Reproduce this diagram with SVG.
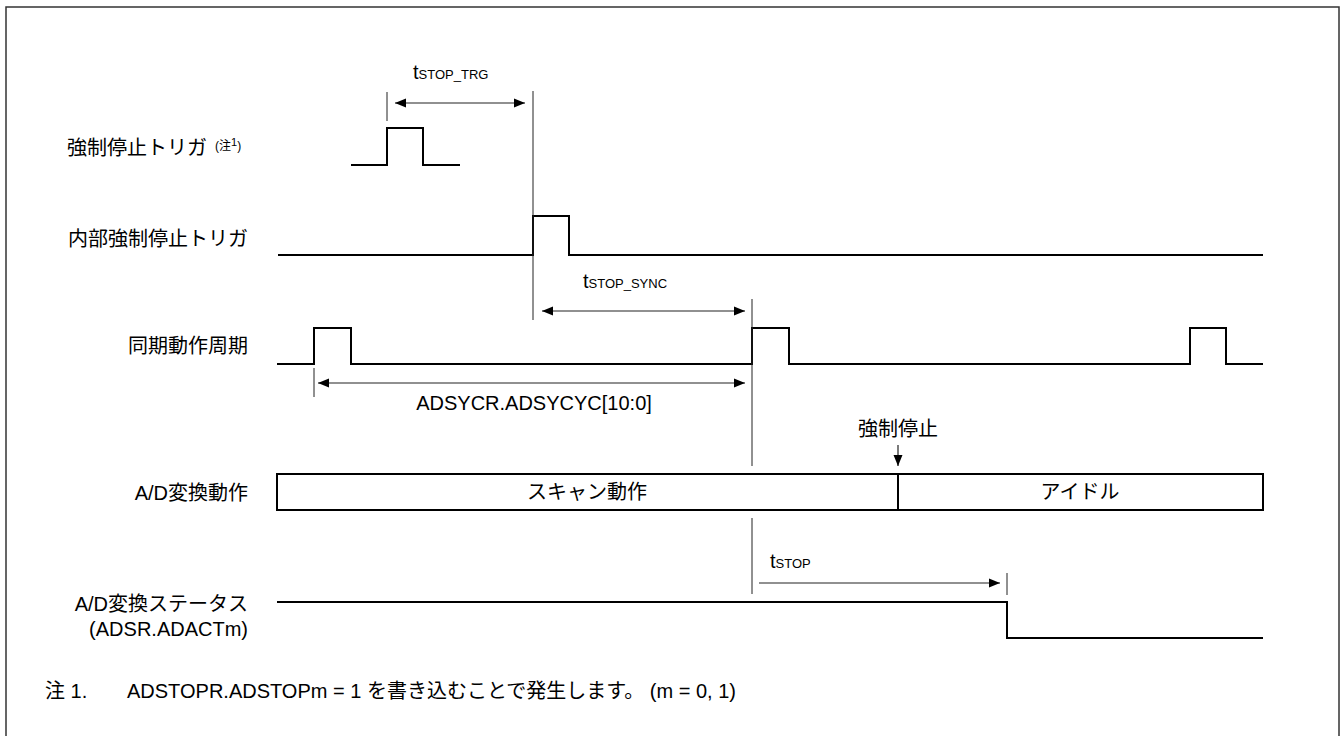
<svg xmlns="http://www.w3.org/2000/svg" width="1343" height="736" viewBox="0 0 1343 736">
<style>
text{font-family:"Liberation Sans","Noto Sans CJK JP",sans-serif;fill:#000;font-size:20px}
.sub{font-size:13px}
.lbl{text-anchor:end}
.mid{text-anchor:middle}
.sig{fill:none;stroke:#000;stroke-width:2}
.thin{fill:none;stroke:#222;stroke-width:1}
.dim{fill:none;stroke:#222;stroke-width:1.2}
</style>
<defs>
<marker id="ah" markerUnits="userSpaceOnUse" markerWidth="12" markerHeight="10" refX="11" refY="5" orient="auto-start-reverse">
<path d="M0,0.5 L11,5 L0,9.5 Z" fill="#000"/>
</marker>
</defs>
<rect x="6" y="7" width="1333" height="740" fill="none" stroke="#333" stroke-width="1.5"/>

<g id="labels">
<text class="lbl" x="207" y="155">強制停止トリガ</text>
<text x="215" y="150" style="font-size:12px">(注<tspan dy="-4" style="font-size:11px">1</tspan><tspan dy="4">)</tspan></text>
<text class="lbl" x="248" y="246">内部強制停止トリガ</text>
<text class="lbl" x="248" y="353">同期動作周期</text>
<text class="lbl" x="248" y="500">A/D変換動作</text>
<text class="lbl" x="248" y="611">A/D変換ステータス</text>
<text class="lbl" x="248" y="636">(ADSR.ADACTm)</text>
</g>

<g id="sig-force-trigger">
<path class="sig" d="M351,165 H387 V128 H423 V165 H460"/>
</g>
<g id="sig-internal-trigger">
<path class="sig" d="M278,255 H533 V216 H569 V255 H1263"/>
</g>
<g id="sig-sync-cycle">
<path class="sig" d="M277,364 H314 V328 H351 V364 H752 V328 H789 V364 H1190 V328 H1226 V364 H1263"/>
</g>
<g id="sig-ad-operation">
<rect class="sig" x="277" y="474" width="986" height="36"/>
<line class="sig" x1="898" y1="474" x2="898" y2="510"/>
<text class="mid" x="587" y="499">スキャン動作</text>
<text class="mid" x="1080" y="499">アイドル</text>
</g>
<g id="sig-ad-status">
<path class="sig" d="M277,602 H1007 V638 H1263"/>
</g>

<g id="connectors">
<line class="thin" x1="387" y1="92" x2="387" y2="121"/>
<line class="thin" x1="533" y1="91" x2="533" y2="320"/>
<line class="dim" x1="395" y1="103" x2="525" y2="103" marker-start="url(#ah)" marker-end="url(#ah)"/>
<line class="dim" x1="542" y1="311" x2="745" y2="311" marker-start="url(#ah)" marker-end="url(#ah)"/>
<line class="thin" x1="752" y1="299" x2="752" y2="466"/>
<line class="thin" x1="314" y1="368" x2="314" y2="397"/>
<line class="dim" x1="318" y1="383" x2="745" y2="383" marker-start="url(#ah)" marker-end="url(#ah)"/>
<line class="dim" x1="898" y1="445" x2="898" y2="466" marker-end="url(#ah)"/>
<line class="thin" x1="752" y1="518" x2="752" y2="594"/>
<line class="dim" x1="759" y1="583" x2="1000" y2="583" marker-end="url(#ah)"/>
<line class="thin" x1="1007" y1="573" x2="1007" y2="595"/>
</g>

<g id="timing-labels">
<text x="413" y="79">t<tspan class="sub">STOP_TRG</tspan></text>
<text x="583" y="288">t<tspan class="sub">STOP_SYNC</tspan></text>
<text x="770" y="568">t<tspan class="sub">STOP</tspan></text>
<text class="mid" x="534" y="410">ADSYCR.ADSYCYC[10:0]</text>
<text class="mid" x="898" y="436">強制停止</text>
</g>

<g id="note">
<text x="45" y="698">注 1.</text>
<text x="127" y="698">ADSTOPR.ADSTOPm = 1 を書き込むことで発生します。 (m = 0, 1)</text>
</g>
</svg>
